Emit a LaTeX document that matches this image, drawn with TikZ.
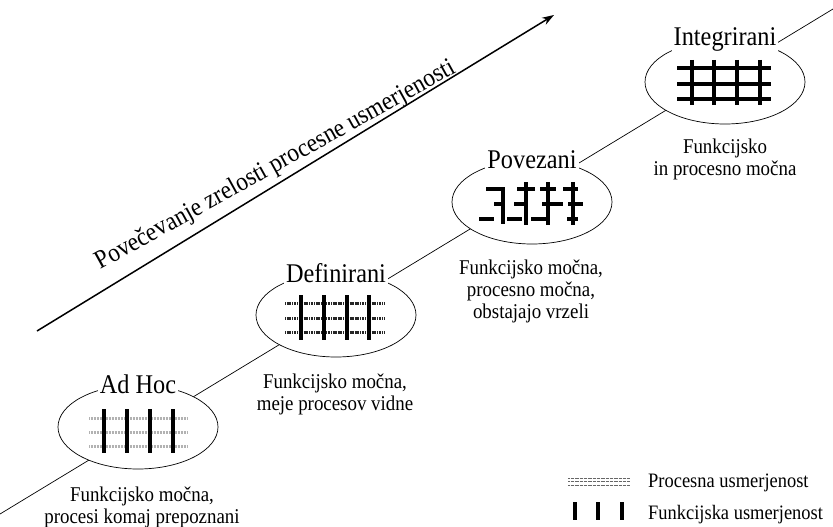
\documentclass[tikz,border=0pt]{standalone}
\usepackage{fontspec}
\setmainfont{Liberation Serif}[FakeStretch=0.9]
\usetikzlibrary{arrows.meta,shapes.geometric}

\begin{document}
\begin{tikzpicture}[x=1pt,y=-1pt,
  stage/.style={ellipse, draw, fill=white, minimum width=160pt, minimum height=84pt, inner sep=0pt, line width=0.7pt},
  stagetitle/.style={fill=white, inner sep=2pt, font=\fontsize{27}{30}\selectfont},
  caption/.style={align=center, anchor=north, inner sep=0pt, font=\fontsize{21}{22}\selectfont},
  legendtext/.style={anchor=base west, inner sep=0pt, font=\fontsize{20.5}{22}\selectfont},
  funcbar/.style={line width=4pt},
  procweak/.style={line width=3pt, black!30, dash pattern=on 1pt off 0.5pt},
  procmid/.style={line width=3pt, black!85, dash pattern=on 1.2pt off 0.5pt},
  procfull/.style={line width=4.5pt},
  link/.style={line width=4pt},
  procthin/.style={line width=0.8pt, black!60, dash pattern=on 0.8pt off 0.5pt},
  maturity/.style={line width=1.5pt, -{Stealth[length=12pt,width=8pt]}},
  ladder/.style={line width=0.7pt}
]
\useasboundingbox (0,0) rectangle (833,527);

% the rising line that links the four stages
\coordinate (lineS) at (0,514);
\coordinate (lineE) at (833,9);
\draw[ladder] (lineS) -- (lineE);

% maturity arrow with its label
\coordinate (arrS) at (37,331);
\coordinate (arrE) at (554,15);
\draw[maturity] (arrS) -- (arrE);
\node[anchor=base, rotate=29, inner sep=0pt, font=\fontsize{26}{28}\selectfont] (arrlabel) at (279,171)
  {Povečevanje zrelosti procesne usmerjenosti};

% stages
\node[stage] (adhoc) at (138,427) {};
\node[stage] (defin) at (336,315) {};
\node[stage] (povez) at (532,202) {};
\node[stage] (integ) at (725,82) {};

% Ad Hoc: weak process lines, strong functions
\foreach \y in {418,432,446} \draw[procweak] (89,\y) -- (188,\y);
\foreach \x in {104,127,150,173} \draw[funcbar] (\x,409) -- (\x,453);

% Definirani
\foreach \y in {303,318,332} \draw[procmid] (285,\y) -- (385,\y);
\foreach \x in {301,324,347,369} \draw[funcbar] (\x,295) -- (\x,340);

% Povezani: process pieces that do not yet join up
\draw[funcbar] (503,187) -- (503,224);
\foreach \x in {526,548,573} \draw[funcbar] (\x,182) -- (\x,225);
\foreach \a/\b in {486/505,517/535,540/556,563/578}
  \draw[link] (\a,189) -- (\b,189);
\foreach \a/\b in {494/505,514/528,542/563,568/583}
  \draw[link] (\a,204) -- (\b,204);
\foreach \a/\b in {479/494,507/522,531/548,567/578}
  \draw[link] (\a,219) -- (\b,219);

% Integrirani: full grid
\foreach \y in {68,84,99} \draw[procfull] (677,\y) -- (771,\y);
\foreach \x in {692,714,737,760} \draw[procfull] (\x,60) -- (\x,105);

% stage titles
\node[stagetitle] (adhocT) at (adhoc.north) {Ad Hoc};
\node[stagetitle] (definT) at (defin.north) {Definirani};
\node[stagetitle] (povezT) at (povez.north) {Povezani};
\node[stagetitle] (integT) at (integ.north) {Integrirani};

% captions
\node[caption] (adhocC) at (142,487) {Funkcijsko močna,\\procesi komaj prepoznani};
\node[caption] (definC) at (335,374) {Funkcijsko močna,\\meje procesov vidne};
\node[caption] (povezC) at (531,260) {Funkcijsko močna,\\procesno močna,\\obstajajo vrzeli};
\node[caption] (integC) at (725,139) {Funkcijsko\\in procesno močna};

% legend
\foreach \y in {478,481.5,485} \draw[procthin] (568,\y) -- (630,\y);
\foreach \x in {575,598,622} \draw[funcbar, line width=4.5pt] (\x,502) -- (\x,520);
\node[legendtext] (legP) at (648,487) {Procesna usmerjenost};
\node[legendtext] (legF) at (648,519) {Funkcijska usmerjenost};
\end{tikzpicture}
\end{document}
